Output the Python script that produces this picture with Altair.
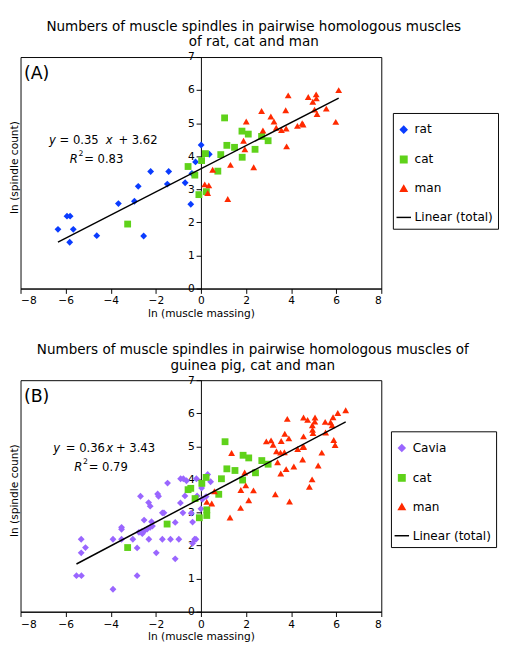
import altair as alt
import pandas as pd

FONT = "DejaVu Sans"

# ---------------- Panel A data ----------------
rat_x = [-6.34, -5.94, -5.80, -5.66, -5.82, -4.62, -3.66, -2.95, -2.78, -2.54,
         -2.23, -1.43, -1.49, -0.70, -0.45, -0.40, -0.24, 0.01, 0.37]
rat_y = [1.79, 2.19, 2.19, 1.79, 1.40, 1.60, 2.57, 2.64, 3.09, 1.59,
         3.54, 3.54, 3.16, 3.20, 2.55, 3.48, 3.83, 4.34, 4.06]

catA_x = [-3.25, -0.57, -0.27, -0.09, 0.03, 0.20, 0.24, 0.75, 0.88, 1.05,
          1.15, 1.49, 1.82, 1.83, 2.10, 2.40, 2.69, 2.98]
catA_y = [1.95, 3.69, 3.43, 2.84, 3.87, 4.08, 2.93, 3.55, 4.05, 5.16,
          4.33, 4.27, 4.76, 3.97, 4.67, 4.21, 4.60, 4.47]

manA_x = [0.17, 0.35, 0.30, 0.52, 1.19, 1.31, 1.89, 1.95, 2.01, 2.34,
          2.69, 2.75, 3.10, 3.24, 3.34, 3.57, 3.78, 3.76, 3.80, 3.87,
          4.28, 4.49, 4.53, 4.76, 4.96, 5.04, 5.11, 5.12, 5.15, 5.56,
          5.98, 6.11]
manA_y = [3.15, 3.12, 2.89, 3.59, 2.71, 3.74, 4.47, 4.21, 5.05, 3.67,
          5.37, 4.78, 5.20, 5.05, 4.86, 4.79, 4.84, 5.39, 4.30, 5.84,
          4.92, 5.00, 4.96, 5.79, 5.65, 5.41, 5.87, 5.75, 5.28, 5.44,
          5.04, 6.00]

# ---------------- Panel B data ----------------
cavia_x = [-5.52, -5.30, -5.31, -5.31, -5.12, -3.90, -3.90, -3.52, -3.52, -3.52,
           -3.02, -2.83, -2.83, -2.68, -2.52, -2.75, -2.62, -2.48, -2.38, -2.25,
           -2.15, -2.60, -2.32, -2.25, -2.31, -2.19, -1.98, -1.92, -1.88, -1.71,
           -1.64, -1.71, -1.48, -1.35, -1.14, -1.14, -0.98, -0.91, -0.90, -0.78,
           -0.80, -0.64, -0.71, -0.43, -0.37, -0.37, -0.28, -0.22, -0.20, -0.17,
           0.00, 0.03, 0.06, 0.23, 0.30, 0.43]
cavia_y = [1.09, 1.09, 2.19, 1.78, 1.94, 0.68, 2.19, 2.55, 2.49, 2.19,
           2.19, 1.93, 1.09, 3.49, 2.77, 2.40, 2.43, 2.46, 2.50, 2.55,
           2.59, 2.36, 3.30, 3.19, 2.19, 2.72, 1.78, 3.56, 3.49, 2.99,
           2.99, 2.19, 3.89, 2.19, 2.70, 1.60, 2.19, 3.29, 4.02, 4.02,
           2.99, 3.96, 3.50, 2.98, 2.71, 2.07, 2.19, 2.19, 4.02, 3.50,
           3.11, 3.74, 3.40, 3.48, 4.15, 3.93]

catB_x = [-3.25, -1.50, -0.57, -0.45, -0.26, -0.07, 0.04, 0.23, 0.26, 0.26,
          0.79, 0.91, 1.07, 1.15, 1.51, 1.85, 1.87, 2.12, 2.42, 2.70, 2.98]
catB_y = [1.94, 2.65, 3.69, 3.73, 3.42, 2.84, 3.88, 4.06, 3.08, 2.91,
          3.55, 4.02, 5.14, 4.32, 4.27, 3.98, 4.73, 4.65, 4.20, 4.57, 4.46]

manB_x = [0.26, 0.48, 0.60, 1.29, 1.36, 1.76, 1.77, 1.94, 1.99, 2.12,
          2.33, 2.90, 3.11, 3.20, 3.30, 3.35, 3.40, 3.53, 3.54, 3.56,
          3.70, 3.72, 3.78, 3.83, 3.90, 3.93, 4.12, 4.29, 4.51, 4.52,
          4.56, 4.55, 4.55, 4.73, 4.81, 4.93, 4.94, 4.95, 4.97, 5.05,
          5.06, 5.20, 5.36, 5.53, 5.51, 5.75, 5.82, 5.86, 5.89, 5.95,
          6.07, 6.42]
manB_y = [3.32, 3.27, 3.64, 2.85, 4.80, 3.14, 3.68, 4.21, 3.82, 3.37,
          3.67, 5.15, 5.18, 5.05, 3.55, 4.85, 4.52, 4.81, 4.18, 5.16,
          4.82, 5.38, 4.31, 5.83, 5.24, 3.33, 4.39, 4.92, 4.60, 4.98,
          4.99, 5.30, 5.87, 5.80, 3.78, 4.00, 5.64, 5.50, 5.40, 5.75,
          5.87, 4.42, 4.81, 5.42, 5.74, 5.73, 5.64, 5.88, 5.19, 5.04,
          6.01, 6.09]

# Fits shown on the chart
fitA = (0.35, 3.62, "0.83")
fitB = (0.36, 3.43, "0.79")

titleA = ["Numbers of muscle spindles in pairwise homologous muscles",
          "of rat, cat and man"]
titleB = ["Numbers of muscle spindles in pairwise homologous muscles of",
          "guinea pig, cat and man"]

x_ticks = [-8, -6, -4, -2, 0, 2, 4, 6, 8]
y_ticks = [0, 1, 2, 3, 4, 5, 6, 7]

LINE_NAME = "Linear (total)"
PW, PH = 374, 240

XSC = alt.Scale(domain=[-8, 8], nice=False, zero=False)
YSC = alt.Scale(domain=[0, 7], nice=False)
XAX = alt.Axis(values=x_ticks, title="ln (muscle massing)", tickSize=5,
               labelPadding=2, titlePadding=2, labelOverlap=False)
YAX = alt.Axis(values=y_ticks, title="ln (spindle count)", tickSize=5,
               labelPadding=2, offset=-PW / 2, titleX=-PW / 2 - 1,
               titleY=PH / 2 - 6, labelOverlap=False, labelBound=False)


def make_df(groups):
    rows = []
    for name, xs, ys in groups:
        for x, y in zip(xs, ys):
            rows.append({"series": name, "x": x, "y": y})
    return pd.DataFrame(rows)


def txt(s, x, y, dx=0, dy=0, size=12, style="normal"):
    return alt.Chart(alt.Data(values=[{}])).mark_text(
        text=s, align="left", baseline="middle", font=FONT, fontSize=size,
        fontStyle=style, color="black", dx=dx, dy=dy
    ).encode(x=alt.XDatum(x, axis=XAX, scale=XSC, type="quantitative"),
             y=alt.YDatum(y, axis=YAX, scale=YSC, type="quantitative"))


def panel(letter, groups, colors, shapes, fit, title, leg_xy, eq_pos, eq_off, r2_pos, r2_off):
    slope, intercept, r2 = fit
    names = [g[0] for g in groups]
    domain = names + [LINE_NAME]
    pts = make_df(groups)
    line_df = pd.DataFrame({"x": [pts["x"].min(), pts["x"].max()]})
    line_df["y"] = slope * line_df["x"] + intercept
    line_df["series"] = LINE_NAME

    leg = alt.Legend(
        orient="none", legendX=leg_xy[0], legendY=leg_xy[1], title=" ",
        titleFontSize=5, titlePadding=1,
        direction="vertical", labelFont=FONT, labelFontSize=12.5, labelColor="black",
        symbolSize={"expr": "datum.value === '%s' ? 225 : 45" % LINE_NAME},
        symbolStrokeWidth=1.5, padding=5, rowPadding=17,
        labelOffset=5, symbolOffset=0, strokeColor="black",
    )
    color = alt.Color("series:N", scale=alt.Scale(domain=domain, range=colors + ["#000000"]), legend=leg)
    shape = alt.Shape("series:N", scale=alt.Scale(domain=domain, range=shapes + ["stroke"]), legend=leg)

    points = alt.Chart(pts).mark_point(filled=True, opacity=1, size=50).encode(
        x=alt.X("x:Q", scale=XSC, axis=XAX),
        y=alt.Y("y:Q", scale=YSC, axis=YAX),
        color=color, shape=shape,
    )
    line = alt.Chart(line_df).mark_line(strokeWidth=1.5).encode(
        x=alt.X("x:Q", scale=XSC, axis=XAX),
        y=alt.Y("y:Q", scale=YSC, axis=YAX),
        color=color)

    ex, ey = eq_pos
    rx, ry = r2_pos
    eq = (txt("y", ex, ey, style="italic")
          + txt("= %.2f" % slope, ex, ey, dx=eq_off[0])
          + txt("x", ex, ey, dx=eq_off[1], style="italic")
          + txt("+ %.2f" % intercept, ex, ey, dx=eq_off[2]))
    r2t = (txt("R", rx, ry, style="italic")
           + txt("2", rx, ry, dx=r2_off[0], dy=-5, size=8)
           + txt("= " + r2, rx, ry, dx=r2_off[1]))
    lab = txt("(%s)" % letter, -7.85, 6.48, size=18)

    return alt.layer(points, line, eq, r2t, lab).properties(
        width=PW, height=PH,
        title=alt.TitleParams(text=title, frame="bounds", anchor="middle", font=FONT,
                              fontSize=14, fontWeight="normal", lineHeight=16,
                              offset=2, color="black"),
    )


A = panel("A",
          [("rat", rat_x, rat_y), ("cat", catA_x, catA_y), ("man", manA_x, manA_y)],
          ["#0a3cff", "#5fd21a", "#ff2a00"], ["diamond", "square", "triangle-up"],
          fitA, titleA, (PW + 12, 58), (-6.74, 4.49), (11, 59, 72), (-5.82, 3.91), (9, 15))
B = panel("B",
          [("Cavia", cavia_x, cavia_y), ("cat", catB_x, catB_y), ("man", manB_x, manB_y)],
          ["#9a66ff", "#5fd21a", "#ff2a00"], ["diamond", "square", "triangle-up"],
          fitB, titleB, (PW + 10, 53), (-6.55, 4.96), (13, 55, 65), (-5.62, 4.37), (9, 15))

chart = alt.vconcat(A, B, spacing=24).resolve_scale(
    x="independent", y="independent", color="independent", shape="independent"
).resolve_legend(color="independent", shape="independent").properties(
    padding={"left": 0, "top": 0, "right": 0, "bottom": 0}
).configure_axis(
    labelFont=FONT, titleFont=FONT, labelFontSize=11, titleFontSize=11,
    titleFontWeight="normal", labelColor="black", titleColor="black",
    tickColor="black", domainColor="black", grid=False, labelOverlap=False,
).configure_view(stroke="black", strokeWidth=1)

chart.save("out.html", embed_options={"renderer": "svg", "actions": False})
